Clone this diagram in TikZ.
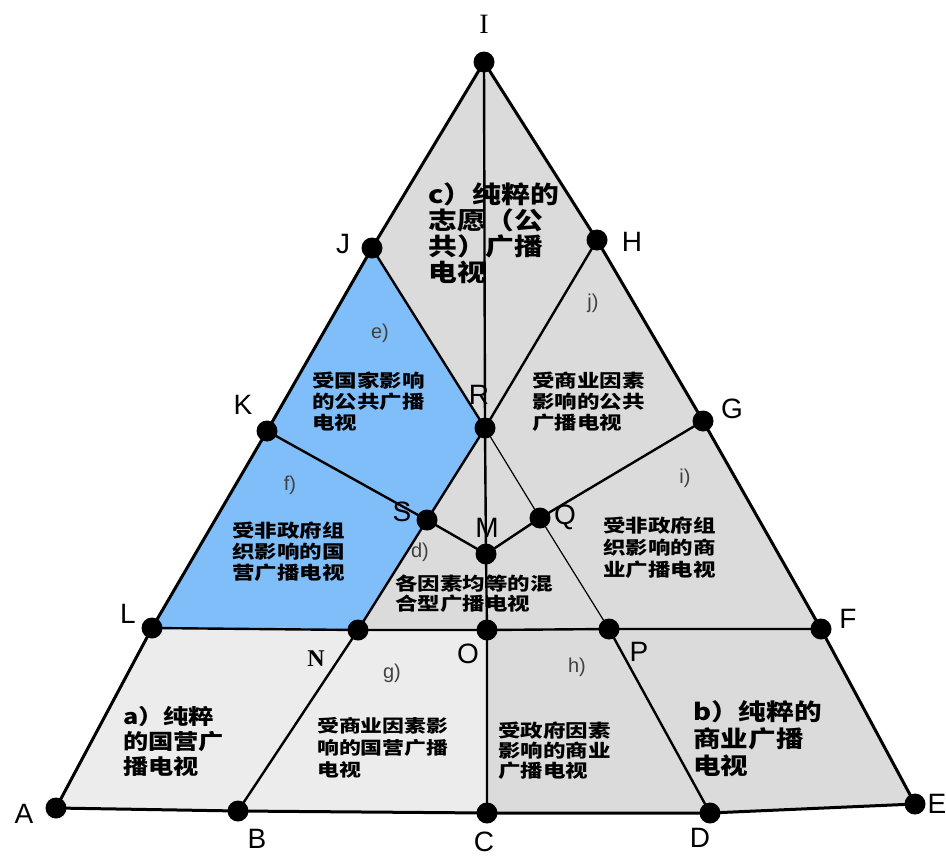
\documentclass[tikz,border=0pt]{standalone}
\usepackage{fontspec}
\setmainfont{Liberation Sans}
\newfontfamily\serifI{Liberation Serif}
\newfontfamily\cjkbig[FakeStretch=1.2]{Noto Sans CJK SC}
\newfontfamily\cjksmall[FakeStretch=1.25]{Noto Sans CJK SC}
\definecolor{regiongray}{HTML}{DBDBDB}
\definecolor{regionlight}{HTML}{ECECEC}
\definecolor{regionblue}{HTML}{80BEFA}
\begin{document}
\begin{tikzpicture}[x=1pt,y=-1pt,
  edge/.style={line width=3pt, line cap=round, line join=round},
  inner/.style={line width=2.4pt, line cap=round},
  thinline/.style={line width=1.2pt},
  dot/.style={circle, fill=black, inner sep=0pt, minimum size=21pt},
  ptlabel/.style={font=\fontsize{28}{28}\selectfont, inner sep=0pt},
  reglabel/.style={font=\fontsize{20}{20}\selectfont, text=black!75, inner sep=0pt},
  bigtext/.style={font=\cjkbig\bfseries\fontsize{24}{26}\selectfont, align=left, anchor=north west, inner sep=0pt},
  smalltext/.style={font=\cjksmall\bfseries\fontsize{18}{21}\selectfont, align=left, anchor=north west, inner sep=0pt}]
\useasboundingbox (0,0) rectangle (946,857);
% points
\coordinate (I) at (484,62);
\coordinate (J) at (372,248);
\coordinate (H) at (597,240);
\coordinate (K) at (267,431);
\coordinate (R) at (485,428);
\coordinate (G) at (703,421);
\coordinate (S) at (427,520);
\coordinate (Q) at (540,518);
\coordinate (M) at (486,554);
\coordinate (L) at (152,628);
\coordinate (N) at (358,630);
\coordinate (O) at (487,630);
\coordinate (P) at (609,629);
\coordinate (F) at (821,629);
\coordinate (A) at (56,808);
\coordinate (B) at (238,811);
\coordinate (C) at (487,813);
\coordinate (D) at (710,813);
\coordinate (E) at (915,804);
% fills
\fill[regiongray] (J) -- (I) -- (H) -- (R) -- cycle;
\fill[regiongray] (R) -- (S) -- (M) -- (Q) -- cycle;
\fill[regionblue] (J) -- (K) -- (L) -- (N) -- (S) -- (R) -- cycle;
\fill[regiongray] (S) -- (M) -- (Q) -- (P) -- (O) -- (N) -- cycle;
\fill[regiongray] (H) -- (G) -- (Q) -- (R) -- cycle;
\fill[regiongray] (G) -- (F) -- (P) -- (Q) -- cycle;
\fill[regionlight] (L) -- (A) -- (B) -- (N) -- cycle;
\fill[regionlight] (N) -- (B) -- (C) -- (O) -- cycle;
\fill[regiongray] (O) -- (C) -- (D) -- (P) -- cycle;
\fill[regiongray] (P) -- (D) -- (E) -- (F) -- cycle;
% lines
\draw[edge] (I) -- (J) -- (K) -- (L) -- (A) -- (B) -- (C) -- (D) -- (E) -- (F) -- (G) -- (H) -- cycle;
\draw[inner] (I) -- (R) -- (M) -- (O) -- (C);
\draw[inner] (L) -- (N) -- (O) -- (P) -- (F);
\draw[inner] (J) -- (R) -- (H);
\draw[inner] (K) -- (S) -- (M) -- (Q) -- (G);
\draw[inner] (R) -- (S) -- (N) -- (B);
\draw[thinline] (R) -- (Q) -- (P);
\draw[inner] (P) -- (D);
% dots
\foreach \p in {I,J,H,K,R,G,S,Q,M,L,N,O,P,F,A,B,C,D,E}
  \node[dot] (dot\p) at (\p) {};
% point labels
\node[ptlabel, font=\serifI\fontsize{28}{28}\selectfont] (lI) at (484,24) {I};
\node[ptlabel] (lJ) at (343,244) {J};
\node[ptlabel] (lH) at (632,242) {H};
\node[ptlabel] (lK) at (243,405) {K};
\node[ptlabel] (lR) at (479,395) {R};
\node[ptlabel] (lG) at (732,409) {G};
\node[ptlabel] (lS) at (402,512) {S};
\node[ptlabel] (lQ) at (565,517) {Q};
\node[ptlabel] (lM) at (487,528) {M};
\node[ptlabel] (lL) at (128,614) {L};
\node[ptlabel, font=\serifI\bfseries\fontsize{24}{24}\selectfont] (lN) at (316,659) {N};
\node[ptlabel] (lO) at (468,654) {O};
\node[ptlabel] (lP) at (639,652) {P};
\node[ptlabel] (lF) at (848,619) {F};
\node[ptlabel] (lA) at (24,814) {A};
\node[ptlabel] (lB) at (257,839) {B};
\node[ptlabel] (lC) at (484,842) {C};
\node[ptlabel] (lD) at (700,838) {D};
\node[ptlabel] (lE) at (937,804) {E};
% region letters
\node[reglabel] (re) at (380,333) {e)};
\node[reglabel] (rf) at (290,485) {f)};
\node[reglabel] (rd) at (420,552) {d)};
\node[reglabel] (rj) at (593,303) {j)};
\node[reglabel] (ri) at (685,478) {i)};
\node[reglabel] (rg) at (392,673) {g)};
\node[reglabel] (rh) at (577,667) {h)};
% region texts
\node[bigtext] (tc) at (428,183) {c）纯粹的\\志愿（公\\共）广播\\电视};
\node[bigtext, font=\cjkbig\bfseries\fontsize{21}{25}\selectfont] (ta) at (123,706) {a）纯粹\\的国营广\\播电视};
\node[bigtext, font=\cjkbig\bfseries\fontsize{23}{27}\selectfont] (tb) at (693,700) {b）纯粹的\\商业广播\\电视};
\node[smalltext] (te) at (312,372) {受国家影响\\的公共广播\\电视};
\node[smalltext] (tj) at (532,372) {受商业因素\\影响的公共\\广播电视};
\node[smalltext] (tf) at (232,522) {受非政府组\\织影响的国\\营广播电视};
\node[smalltext, font=\cjksmall\bfseries\fontsize{18}{20}\selectfont] (td) at (395,575) {各因素均等的混\\合型广播电视};
\node[smalltext, font=\cjksmall\bfseries\fontsize{18}{22}\selectfont] (ti) at (603,517) {受非政府组\\织影响的商\\业广播电视};
\node[smalltext, font=\cjksmall\bfseries\fontsize{17.5}{22}\selectfont] (tg) at (317,717) {受商业因素影\\响的国营广播\\电视};
\node[smalltext, font=\cjksmall\bfseries\fontsize{18}{20}\selectfont] (th) at (498,722) {受政府因素\\影响的商业\\广播电视};
\end{tikzpicture}
\end{document}
